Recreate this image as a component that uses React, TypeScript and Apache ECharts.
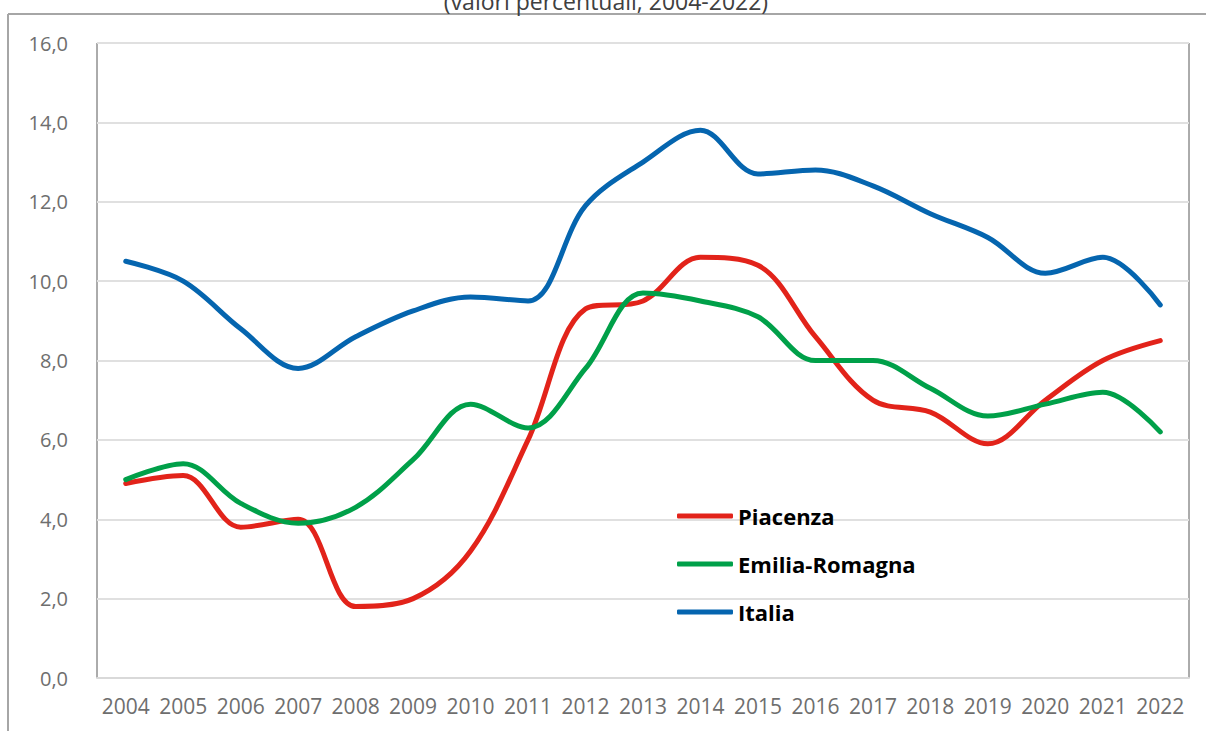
import React, { useEffect, useRef } from "react";
import * as echarts from "echarts";

const years = ["2004","2005","2006","2007","2008","2009","2010","2011","2012","2013","2014","2015","2016","2017","2018","2019","2020","2021","2022"];
const piacenza = [4.9, 5.1, 3.8, 4.0, 1.8, 2.0, 3.2, 6.0, 9.3, 9.5, 10.6, 10.4, 8.6, 7.0, 6.7, 5.9, 7.0, 8.0, 8.5];
const emiliaRomagna = [5.0, 5.4, 4.4, 3.9, 4.3, 5.5, 6.9, 6.3, 7.8, 9.7, 9.5, 9.1, 8.0, 8.0, 7.3, 6.6, 6.9, 7.2, 6.2];
const italia = [10.5, 10.0, 8.8, 7.8, 8.6, 9.25, 9.6, 9.5, 11.9, 13.0, 13.8, 12.7, 12.8, 12.4, 11.7, 11.1, 10.2, 10.6, 9.4];
const seriesNames = ["Piacenza", "Emilia-Romagna", "Italia"];
const titleText = "(valori percentuali, 2004-2022)";

const FONT = "'Open Sans', 'Noto Sans', sans-serif";

export default function App() {
  const ref = useRef<HTMLDivElement>(null);
  useEffect(() => {
    if (!ref.current) return;
    const chart = echarts.init(ref.current, undefined, { renderer: "svg" });
    const colors = ["#E2231A", "#00A049", "#0565AF"];
    const datasets = [piacenza, emiliaRomagna, italia];
    chart.setOption({
      animation: false,
      backgroundColor: "#ffffff",
      textStyle: { fontFamily: FONT },
      graphic: [
        { type: "line", shape: { x1: 8, y1: 14, x2: 1206, y2: 14 }, style: { stroke: "#A6A6A6", lineWidth: 2 }, z: 10 },
        { type: "line", shape: { x1: 8, y1: 14, x2: 8, y2: 731 }, style: { stroke: "#A6A6A6", lineWidth: 2 }, z: 10 },
        {
          type: "text",
          x: 606,
          y: 12,
          style: {
            text: titleText,
            align: "center",
            verticalAlign: "bottom",
            fontFamily: FONT,
            fontSize: 23,
            fill: "#404040",
          },
          z: 10,
        },
      ],
      grid: {
        left: 97,
        top: 43,
        right: 17,
        bottom: 53,
        show: true,
        borderColor: "#595959",
        borderWidth: 1,
        containLabel: false,
      },
      legend: {
        orient: "vertical",
        left: 672,
        top: 499,
        itemWidth: 56,
        itemHeight: 5,
        itemGap: 24,
        icon: "roundRect",
        data: seriesNames,
        textStyle: {
          fontFamily: FONT,
          fontWeight: "bold",
          fontSize: 22,
          lineHeight: 24,
          color: "#000000",
        },
      },
      xAxis: {
        type: "category",
        data: years,
        boundaryGap: true,
        axisLine: { show: true, lineStyle: { color: "#D9D9D9", width: 2 } },
        axisTick: { show: false },
        axisLabel: { color: "#6E6E6E", fontSize: 21, margin: 17, fontFamily: FONT, interval: 0 },
        splitLine: { show: false },
      },
      yAxis: {
        type: "value",
        min: 0,
        max: 16,
        interval: 2,
        axisLine: { show: false },
        axisTick: { show: false },
        axisLabel: {
          color: "#6E6E6E",
          fontSize: 20,
          margin: 29,
          fontFamily: FONT,
          formatter: (v: number) => v.toFixed(1).replace(".", ","),
        },
        splitLine: { show: true, lineStyle: { color: "#E0E0E0", width: 2 } },
      },
      series: seriesNames.map((name, i) => ({
        name,
        type: "line",
        data: datasets[i],
        smooth: 0.35,
        symbol: "none",
        lineStyle: { color: colors[i], width: 5, cap: "round", join: "round" },
        itemStyle: { color: colors[i] },
        z: 3 + i,
      })),
    });
    return () => chart.dispose();
  }, []);
  return (
    <div
      ref={ref}
      style={{ position: "fixed", left: 0, top: 0, width: 1206, height: 731 }}
    />
  );
}
